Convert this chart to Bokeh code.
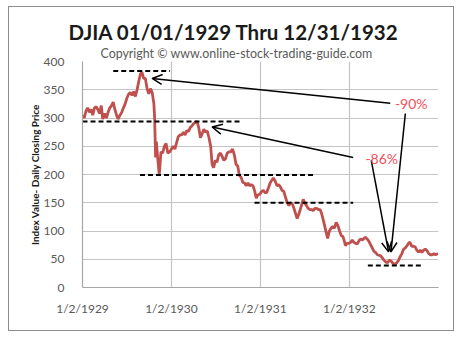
from datetime import datetime
from bokeh.plotting import figure
from bokeh.models import (Range1d, FixedTicker, Label, Arrow, OpenHead,
                          ColumnDataSource, Title)
from bokeh.embed import file_html
from bokeh.resources import INLINE

# ---------------- data ----------------
dates = [
    "1929-01-02", "1929-01-09", "1929-01-16", "1929-01-23", "1929-01-30", "1929-02-06",
    "1929-02-13", "1929-02-20", "1929-02-27", "1929-03-06", "1929-03-13", "1929-03-20",
    "1929-03-26", "1929-04-03", "1929-04-10", "1929-04-17", "1929-04-24", "1929-05-01",
    "1929-05-08", "1929-05-15", "1929-05-22", "1929-05-28", "1929-06-05", "1929-06-12",
    "1929-06-19", "1929-06-26", "1929-07-03", "1929-07-10", "1929-07-17", "1929-07-24",
    "1929-07-31", "1929-08-07", "1929-08-14", "1929-08-21", "1929-08-28", "1929-09-03",
    "1929-09-10", "1929-09-17", "1929-09-24", "1929-10-01", "1929-10-08", "1929-10-15",
    "1929-10-22", "1929-10-25", "1929-10-29", "1929-11-01", "1929-11-06", "1929-11-13",
    "1929-11-20", "1929-11-27", "1929-12-04", "1929-12-11", "1929-12-18", "1929-12-26",
    "1930-01-02", "1930-01-09", "1930-01-16", "1930-01-23", "1930-01-30", "1930-02-06",
    "1930-02-13", "1930-02-20", "1930-02-27", "1930-03-06", "1930-03-13", "1930-03-20",
    "1930-03-27", "1930-04-03", "1930-04-10", "1930-04-17", "1930-04-24", "1930-05-01",
    "1930-05-08", "1930-05-15", "1930-05-22", "1930-05-29", "1930-06-05", "1930-06-12",
    "1930-06-18", "1930-06-24", "1930-07-01", "1930-07-08", "1930-07-15", "1930-07-22",
    "1930-07-29", "1930-08-05", "1930-08-12", "1930-08-19", "1930-08-26", "1930-09-02",
    "1930-09-10", "1930-09-17", "1930-09-24", "1930-10-01", "1930-10-08", "1930-10-15",
    "1930-10-22", "1930-10-29", "1930-11-05", "1930-11-12", "1930-11-19", "1930-11-26",
    "1930-12-03", "1930-12-10", "1930-12-16", "1930-12-23", "1930-12-31",
    "1931-01-07", "1931-01-14", "1931-01-21", "1931-01-28", "1931-02-04", "1931-02-11",
    "1931-02-18", "1931-02-24", "1931-03-04", "1931-03-11", "1931-03-18", "1931-03-25",
    "1931-04-01", "1931-04-08", "1931-04-15", "1931-04-22", "1931-04-29", "1931-05-06",
    "1931-05-13", "1931-05-20", "1931-05-27", "1931-06-02", "1931-06-09", "1931-06-16",
    "1931-06-23", "1931-06-27", "1931-07-03", "1931-07-10", "1931-07-17", "1931-07-24",
    "1931-07-31", "1931-08-07", "1931-08-14", "1931-08-21", "1931-08-28", "1931-09-04",
    "1931-09-11", "1931-09-18", "1931-09-25", "1931-10-05", "1931-10-12", "1931-10-19",
    "1931-10-26", "1931-11-02", "1931-11-09", "1931-11-16", "1931-11-23", "1931-11-30",
    "1931-12-07", "1931-12-14", "1931-12-17", "1931-12-23", "1931-12-31",
    "1932-01-07", "1932-01-14", "1932-01-21", "1932-01-28", "1932-02-04", "1932-02-11",
    "1932-02-18", "1932-02-25", "1932-03-03", "1932-03-08", "1932-03-15", "1932-03-22",
    "1932-03-29", "1932-04-05", "1932-04-12", "1932-04-19", "1932-04-26", "1932-05-03",
    "1932-05-10", "1932-05-17", "1932-05-24", "1932-05-31", "1932-06-07", "1932-06-14",
    "1932-06-21", "1932-06-28", "1932-07-08", "1932-07-15", "1932-07-22", "1932-07-29",
    "1932-08-05", "1932-08-12", "1932-08-19", "1932-08-26", "1932-09-02", "1932-09-07",
    "1932-09-14", "1932-09-21", "1932-09-28", "1932-10-05", "1932-10-12", "1932-10-19",
    "1932-10-26", "1932-11-02", "1932-11-09", "1932-11-16", "1932-11-23", "1932-11-30",
    "1932-12-07", "1932-12-14", "1932-12-21", "1932-12-31",
]
closes = [
    305, 300, 312, 318, 310, 315,
    305, 318, 320, 315, 308, 322,
    298, 308, 300, 310, 318, 322,
    328, 315, 305, 298, 305, 310,
    318, 325, 335, 342, 345, 340,
    347, 338, 350, 365, 378, 381,
    370, 370, 352, 343, 352, 345,
    325, 300, 230, 258, 232, 199,
    240, 238, 250, 255, 238, 240,
    245, 250, 245, 256, 267, 270,
    270, 275, 270, 278, 276, 283,
    286, 290, 292, 294, 283, 265,
    272, 280, 275, 277, 265, 250,
    218, 212, 225, 222, 235, 238,
    232, 225, 228, 238, 240, 240,
    245, 235, 218, 215, 198, 195,
    186, 185, 180, 185, 180, 182,
    180, 170, 158, 164, 165,
    170, 172, 168, 168, 176, 185,
    190, 194, 188, 180, 182, 178,
    172, 170, 160, 150, 145, 150,
    148, 140, 130, 122, 130, 140,
    150, 156, 150, 145, 140, 138,
    138, 136, 140, 140, 138, 138,
    130, 118, 105, 87, 100, 105,
    108, 105, 115, 110, 100, 92,
    90, 80, 74, 78, 78,
    80, 84, 80, 78, 77, 83,
    86, 84, 87, 89, 86, 82,
    76, 70, 64, 62, 58, 57,
    56, 52, 48, 45, 44, 48,
    47, 43, 41, 44, 48, 55,
    60, 68, 70, 74, 79, 80,
    73, 73, 72, 66, 63, 66,
    62, 66, 68, 65, 60, 58,
    58, 60, 58, 60,
]

tick_dates = ["1929-01-02", "1930-01-02", "1931-01-02", "1932-01-02"]
tick_labels = ["1/2/1929", "1/2/1930", "1/2/1931", "1/2/1932"]
y_ticks = [0, 50, 100, 150, 200, 250, 300, 350, 400]

# reference levels (peaks / troughs) drawn as dashed lines
level_values = [383, 294, 199, 150, 39]
level_start = ["1929-05-08", "1929-01-02", "1929-08-26", "1930-12-09", "1932-03-18"]
level_end = ["1929-12-27", "1930-10-20", "1931-08-14", "1932-01-18", "1932-10-27"]

pct_labels = ["-90%", "-86%"]

# ---------------- helpers ----------------
EPOCH = datetime(1970, 1, 1)


def ms(s):
    return (datetime.strptime(s, "%Y-%m-%d") - EPOCH).total_seconds() * 1000.0


xs = [ms(d) for d in dates]
src = ColumnDataSource(dict(x=xs, y=closes))

# page geometry: chart box (9,7)-(453,330); plot frame (82,61)-(438,287)
BX0, BY0, BX1, BY1 = 9, 7, 453, 330
FL, FR, FT, FB = 82, 438, 61, 287

p = figure(width=BX1 - BX0, height=BY1 - BY0, output_backend="svg",
           toolbar_location=None, x_axis_type="datetime",
           x_range=Range1d(ms("1929-01-02"), ms("1933-01-02")),
           y_range=Range1d(0, 400),
           min_border_left=FL - BX0, min_border_right=BX1 - FR,
           min_border_top=FT - BY0, min_border_bottom=BY1 - FB,
           margin=(BY0, 0, 0, BX0))
p.styles = {"outline": "1px solid #8c8c8c"}
p.outline_line_color = None
p.background_fill_color = "white"
p.border_fill_color = "white"

tick_ms = [ms(d) for d in tick_dates]
p.xaxis.ticker = FixedTicker(ticks=tick_ms)
p.xaxis.major_label_overrides = {t: l for t, l in zip(tick_ms, tick_labels)}
p.yaxis.ticker = FixedTicker(ticks=y_ticks)
p.xgrid.ticker = FixedTicker(ticks=tick_ms)
p.ygrid.ticker = FixedTicker(ticks=y_ticks)

for ax in (p.xaxis, p.yaxis):
    ax.axis_line_color = "#a6a6a6"
    ax.axis_line_width = 1.2
    ax.major_tick_line_color = None
    ax.minor_tick_line_color = None
    ax.major_label_text_font = "Lato"
    ax.major_label_text_font_size = "12px"
    ax.major_label_text_color = "#595959"
p.xaxis.major_label_standoff = 7
p.yaxis.major_label_standoff = 12
p.yaxis.axis_label = "Index Value- Daily Closing Price"
p.yaxis.axis_label_text_font = "Lato"
p.yaxis.axis_label_text_font_style = "bold"
p.yaxis.axis_label_text_font_size = "10px"
p.yaxis.axis_label_text_color = "#1a1a1a"
p.yaxis.axis_label_standoff = 0

for g in (p.xgrid, p.ygrid):
    g.grid_line_color = "#c4c4c4"
    g.grid_line_width = 1.2

# the index line
p.line("x", "y", source=src, line_color="#c0504d", line_width=2.8)

# dashed reference levels
p.segment(x0=[ms(d) for d in level_start], y0=level_values,
          x1=[ms(d) for d in level_end], y1=level_values,
          line_color="black", line_width=2, line_dash="5 3")

# arrows from the percentage labels to peaks / trough
arrows = [
    (("1932-06-18", 326), ("1929-10-15", 370)),
    (("1932-01-18", 230), ("1930-06-18", 284)),
    (("1932-08-19", 308), ("1932-06-21", 63)),
    (("1932-04-01", 225), ("1932-06-11", 63)),
]
for (xs0, ys0), (xe0, ye0) in arrows:
    p.add_layout(Arrow(end=OpenHead(size=10, line_color="black", line_width=1.5),
                       x_start=ms(xs0), y_start=ys0, x_end=ms(xe0), y_end=ye0,
                       line_color="black", line_width=1.5))

for txt, (d, yv) in zip(pct_labels, [("1932-09-12", 326), ("1932-05-14", 228)]):
    p.add_layout(Label(x=ms(d), y=yv, text=txt, text_align="center",
                       text_baseline="middle", text_font="Lato",
                       text_font_size="14px", text_color="#f0505a"))

# titles: first added sits closest to the frame
p.add_layout(Title(text="Copyright \u00a9 www.online-stock-trading-guide.com",
                   align="left", offset=100 - FL, standoff=1,
                   text_font="Lato", text_font_style="normal",
                   text_font_size="12.4px", text_color="#595959"), "above")
p.add_layout(Title(text="DJIA 01/01/1929  Thru 12/31/1932",
                   align="left", offset=68 - FL, standoff=0,
                   text_font="Lato", text_font_style="bold",
                   text_font_size="20.5px", text_color="#1a1a1a"), "above")

open("out.html", "w").write(file_html(p, INLINE))
